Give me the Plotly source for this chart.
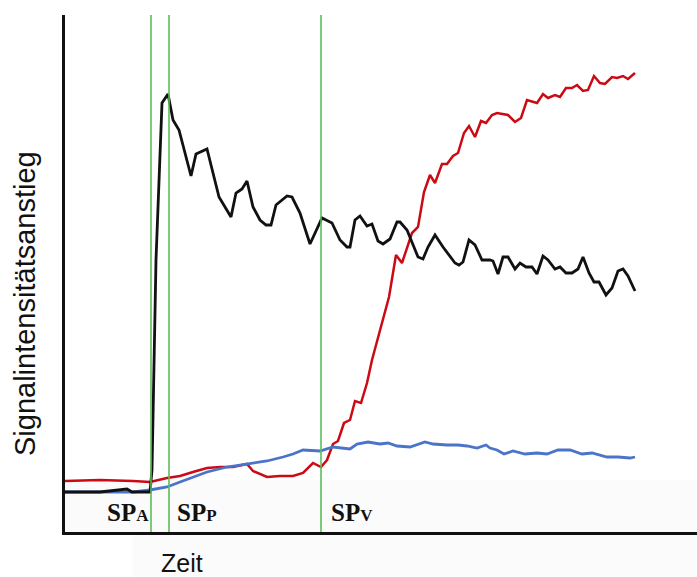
import plotly.graph_objects as go

# Time (arbitrary units) and signal increase (arbitrary units)
black_t = [0, 35, 62, 67, 85, 87, 91, 97, 103, 108, 114, 126, 131, 142, 154, 166, 171, 177, 182, 188,
           195, 201, 206, 211, 222, 227, 235, 245, 257, 267, 275, 282, 285, 290, 295, 302, 307, 313, 318,
           325, 332, 335, 342, 353, 358, 363, 370, 378, 390, 394, 398, 404, 410, 417, 425, 428, 433, 438,
           443, 450, 455, 461, 467, 472, 478, 483, 490, 495, 501, 507, 513, 518, 524, 529, 534, 541, 547,
           553, 558, 563, 570]
black_s = [40, 40, 43, 40, 40, 62, 272, 429, 438, 412, 402, 356, 378, 383, 335, 315, 339, 343, 351, 325,
           312, 307, 307, 327, 336, 335, 319, 288, 314, 309, 292, 285, 285, 312, 316, 306, 308, 291, 288,
           293, 310, 310, 302, 275, 273, 285, 297, 285, 269, 267, 270, 292, 287, 272, 272, 271, 258, 275,
           275, 263, 269, 265, 265, 258, 276, 272, 263, 265, 259, 259, 263, 275, 259, 250, 250, 237, 244,
           261, 263, 256, 241]

red_t = [0, 35, 68, 85, 102, 115, 128, 142, 155, 168, 182, 188, 202, 215, 228, 238, 248, 256, 262, 268,
         273, 279, 285, 290, 296, 302, 307, 313, 318, 324, 331, 337, 347, 353, 359, 365, 370, 377, 382,
         388, 393, 399, 404, 410, 416, 421, 427, 432, 443, 450, 456, 462, 472, 478, 483, 490, 495, 501,
         507, 512, 518, 523, 529, 535, 540, 547, 552, 558, 563, 570]
red_s = [51, 52, 51, 50, 54, 56, 60, 64, 65, 65, 68, 61, 55, 56, 56, 59, 69, 65, 72, 88,
         91, 109, 112, 131, 129, 149, 172, 195, 214, 235, 277, 269, 299, 305, 340, 357, 349, 368, 368,
         376, 379, 399, 406, 395, 411, 409, 417, 419, 417, 410, 414, 432, 429, 438, 434, 437, 435, 444,
         444, 447, 441, 442, 456, 449, 448, 455, 454, 456, 453, 459]

blue_t = [0, 35, 68, 85, 102, 115, 128, 142, 162, 182, 202, 218, 228, 238, 255, 268, 285, 292, 303, 315,
          323, 332, 345, 360, 368, 382, 393, 402, 412, 421, 425, 432, 439, 448, 460, 472, 482, 493, 505,
          517, 527, 542, 553, 565, 570]
blue_s = [40, 40, 40, 42, 45, 50, 55, 60, 65, 68, 71, 75, 78, 82, 81, 85, 83, 88, 90, 88,
          89, 86, 85, 90, 88, 87, 87, 86, 84, 87, 84, 82, 78, 81, 78, 79, 78, 82, 82,
          78, 79, 75, 75, 74, 75]

markers_t = [86, 104, 256]
marker_labels = ["SP<span style='font-size:17px'>A</span>",
                 "SP<span style='font-size:17px'>P</span>",
                 "SP<span style='font-size:17px'>V</span>"]
label_t = [40, 110, 264]

X_MAX = 632
Y_MAX = 517

fig = go.Figure()
fig.add_trace(go.Scatter(x=red_t, y=red_s, mode="lines", hoverinfo="skip",
                         line=dict(color="#cc0a14", width=2.5), showlegend=False))
fig.add_trace(go.Scatter(x=blue_t, y=blue_s, mode="lines", hoverinfo="skip",
                         line=dict(color="#4a74c9", width=2.8), showlegend=False))
fig.add_trace(go.Scatter(x=black_t, y=black_s, mode="lines", hoverinfo="skip",
                         line=dict(color="#111111", width=2.8), showlegend=False))

shapes = [
    dict(type="rect", xref="paper", yref="paper", x0=0, x1=1, y0=0, y1=52 / Y_MAX,
         fillcolor="#fbfbfb", line=dict(width=0), layer="below"),
    dict(type="rect", xref="paper", yref="paper", x0=68 / X_MAX, x1=1, y0=-45 / Y_MAX, y1=0,
         fillcolor="#fbfbfb", line=dict(width=0), layer="below"),
]
for t in markers_t:
    shapes.append(dict(type="line", xref="x", yref="paper", x0=t, x1=t, y0=0, y1=1,
                       line=dict(color="#5cbf5c", width=1.6), layer="above"))

annotations = []
for t, lab in zip(label_t, marker_labels):
    annotations.append(dict(x=t, y=20, xref="x", yref="y", text="<b>" + lab + "</b>",
                            showarrow=False, xanchor="left", yanchor="middle",
                            font=dict(family="Liberation Serif", size=25, color="#111111")))
annotations.append(dict(x=117 / X_MAX, y=-31 / Y_MAX, xref="paper", yref="paper", text="Zeit",
                        showarrow=False, xanchor="center", yanchor="middle",
                        font=dict(family="Liberation Sans", size=25, color="#111111")))
annotations.append(dict(x=-40 / X_MAX, y=228 / Y_MAX, xref="paper", yref="paper",
                        text="Signalintensitätsanstieg",
                        showarrow=False, textangle=-90, xanchor="center", yanchor="middle",
                        font=dict(family="Liberation Sans", size=29, color="#111111")))

fig.update_layout(
    width=697, height=577,
    margin=dict(l=65, r=0, t=15, b=45),
    paper_bgcolor="white", plot_bgcolor="rgba(0,0,0,0)",
    shapes=shapes, annotations=annotations,
    xaxis=dict(range=[0, X_MAX], showgrid=False, zeroline=False, showticklabels=False,
               ticks="", showline=True, linecolor="#111111", linewidth=2.5, fixedrange=True),
    yaxis=dict(range=[0, Y_MAX], showgrid=False, zeroline=False, showticklabels=False,
               ticks="", showline=True, linecolor="#111111", linewidth=2.5, fixedrange=True),
)

fig.write_html("out.html", config={"displayModeBar": False},
               post_script="document.body.style.margin='0';document.body.style.overflow='hidden';")
